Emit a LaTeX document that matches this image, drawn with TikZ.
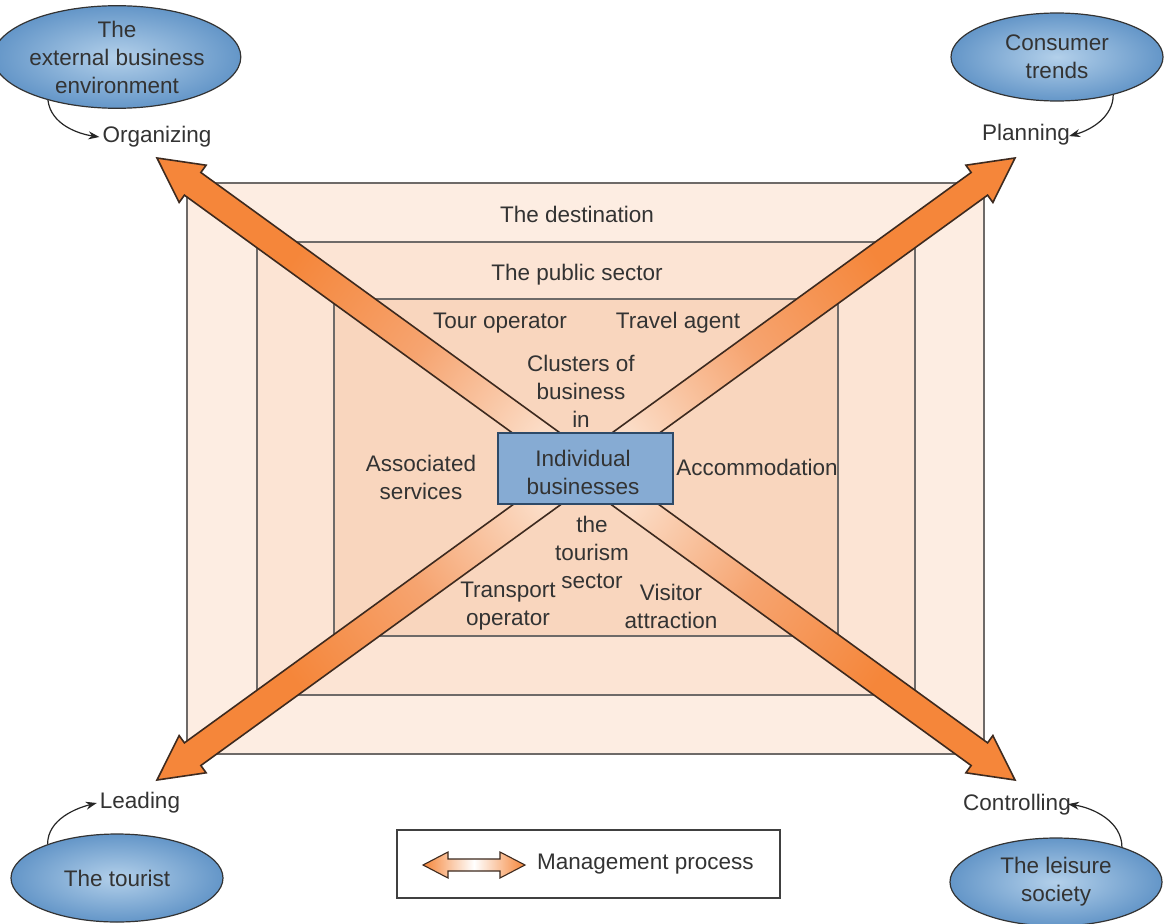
\documentclass[tikz,border=0pt]{standalone}
\usepackage{fontspec}
\setmainfont{Liberation Sans}
\usetikzlibrary{shapes.geometric,arrows.meta}
\definecolor{bandA}{HTML}{FDEDE2}
\definecolor{bandB}{HTML}{FCE4D4}
\definecolor{bandC}{HTML}{F9D6BE}
\definecolor{rectline}{HTML}{6E6A68}
\definecolor{arrOrange}{HTML}{F5863A}
\definecolor{arrMid}{HTML}{F6A470}
\definecolor{arrPale}{HTML}{FBDCC6}
\definecolor{arrLine}{HTML}{3D2A1F}
\definecolor{boxBlue}{HTML}{86ABD3}
\definecolor{boxLine}{HTML}{2E4A68}
\definecolor{ellIn}{HTML}{B3D0EA}
\definecolor{ellOut}{HTML}{6496C8}
\definecolor{txt}{HTML}{333333}
\pgfdeclareradialshading{arrowfade}{\pgfpoint{0bp}{0bp}}{color(0bp)=(arrPale); color(2.5bp)=(arrPale); color(8.5bp)=(arrMid); color(15bp)=(arrOrange); color(50bp)=(arrOrange)}
\begin{document}
\begin{tikzpicture}[x=1pt,y=-1pt,
  font=\fontsize{22.5}{28}\selectfont, text=txt,
  band/.style={draw=rectline, line width=1.4pt},
  lbl/.style={align=center, inner sep=3pt},
  cloud/.style={ellipse, draw=black!80, line width=1.2pt, inner color=ellIn, outer color=ellOut,
    minimum width=212pt, minimum height=88pt, inner sep=0pt, align=center},
  curv/.style={-{Stealth[length=11pt,width=8pt]}, line width=1.2pt, draw=black!85},
  bigarrow/.style={draw=arrLine, line width=1.6pt, line join=miter},
  legarrow/.style={draw=arrLine, line width=1.1pt, line join=miter}]
\useasboundingbox[fill=white] (0,0) rectangle (1169,923);

% nested rectangles
\draw[band, fill=bandA] (187,183) rectangle (984,754);
\draw[band, fill=bandB] (257,242) rectangle (915,695);
\draw[band, fill=bandC] (334,299) rectangle (838,636);

% outline points of the two management arrows
\begin{scope}[shift={(157,158)}, x={(0.80966pt,-0.58696pt)}, y={(-0.58696pt,-0.80966pt)}]
  \coordinate (a1) at (0,0);        \coordinate (a2) at (44,23);
  \coordinate (a3) at (44,14);      \coordinate (a4) at (1015.7,14);
  \coordinate (a5) at (1015.7,23);  \coordinate (a6) at (1059.7,0);
  \coordinate (a7) at (1015.7,-23); \coordinate (a8) at (1015.7,-14);
  \coordinate (a9) at (44,-14);     \coordinate (a10) at (44,-23);
\end{scope}
\begin{scope}[shift={(157,780)}, x={(0.80966pt,0.58696pt)}, y={(0.58696pt,-0.80966pt)}]
  \coordinate (b1) at (0,0);        \coordinate (b2) at (44,23);
  \coordinate (b3) at (44,14);      \coordinate (b4) at (1015.7,14);
  \coordinate (b5) at (1015.7,23);  \coordinate (b6) at (1059.7,0);
  \coordinate (b7) at (1015.7,-23); \coordinate (b8) at (1015.7,-14);
  \coordinate (b9) at (44,-14);     \coordinate (b10) at (44,-23);
\end{scope}
\coordinate (mid) at (586,469);
\begin{scope}
  \clip (a1) -- (a2) -- (a3) -- (a4) -- (a5) -- (a6) -- (a7) -- (a8) -- (a9) -- (a10) -- cycle;
  \shade[shading=arrowfade] (mid) ++(-600,-600) rectangle ++(1200,1200);
\end{scope}
\draw[bigarrow] (a1) -- (a2) -- (a3) -- (a4) -- (a5) -- (a6) -- (a7) -- (a8) -- (a9) -- (a10) -- cycle;
\begin{scope}
  \clip (b1) -- (b2) -- (b3) -- (b4) -- (b5) -- (b6) -- (b7) -- (b8) -- (b9) -- (b10) -- cycle;
  \shade[shading=arrowfade] (mid) ++(-600,-600) rectangle ++(1200,1200);
\end{scope}
\draw[bigarrow] (b1) -- (b2) -- (b3) -- (b4) -- (b5) -- (b6) -- (b7) -- (b8) -- (b9) -- (b10) -- cycle;

% centre box
\node[draw=boxLine, fill=boxBlue, line width=1.3pt, minimum width=175pt, minimum height=71pt,
  inner sep=0pt] (ib) at (585.5,468.5) {};
\node[lbl] (ibt) at (583,472) {Individual\\businesses};

% labels in the rectangles
\node[lbl] (tdest) at (577,214) {The destination};
\node[lbl] (tpub) at (577,275) {The public sector};
\node[lbl] (ttour) at (500,323) {Tour operator};
\node[lbl] (ttrav) at (678,323) {Travel agent};
\node[lbl] (tclus) at (581,391) {Clusters of\\business\\in};
\node[lbl] (tassoc) at (421,477) {Associated\\services};
\node[lbl] (taccom) at (757,467) {Accommodation};
\node[lbl] (tsect) at (592,552) {the\\tourism\\sector};
\node[lbl] (ttrans) at (508,606) {Transport\\operator};
\node[lbl] (tvis) at (671,606) {Visitor\\attraction};

% ellipses
\node[cloud] (e1) at (117,57) {The\\external business\\environment};
\node[cloud] (e2) at (1057,57) {Consumer\\trends};
\node[cloud] (e3) at (117,878) {The tourist};
\node[cloud] (e4) at (1056,882) {The leisure\\society};

% function labels
\node[lbl] (org) at (157,137) {Organizing};
\node[lbl] (plan) at (1026,135) {Planning};
\node[lbl] (lead) at (140,803) {Leading};
\node[lbl] (ctrl) at (1017,805) {Controlling};

\draw[curv] (e1.212) .. controls +(3,25) and +(-20,-3) .. (org.west);
\draw[curv, shorten >=-4pt] (e2.326) .. controls +(0,22) and +(18,-5) .. (plan.east);
\draw[curv] (e3.154) .. controls +(0,-25) and +(-20,5) .. (lead.west);
\draw[curv, shorten >=-6pt] (e4.28) .. controls +(0,-25) and +(20,3) .. (ctrl.east);

% legend
\node[draw=black!75, line width=1.3pt, minimum width=383pt, minimum height=68pt] (leg) at (588.5,864) {};
\draw[legarrow, left color=arrOrange, right color=arrOrange, middle color=white]
  (423,865) -- (448,852) -- (448,859) -- (500,859) -- (500,852) -- (525,865)
  -- (500,878) -- (500,871) -- (448,871) -- (448,878) -- cycle;
\node[anchor=west, inner sep=0pt] (legtxt) at (537,864) {Management process};
\end{tikzpicture}
\end{document}
